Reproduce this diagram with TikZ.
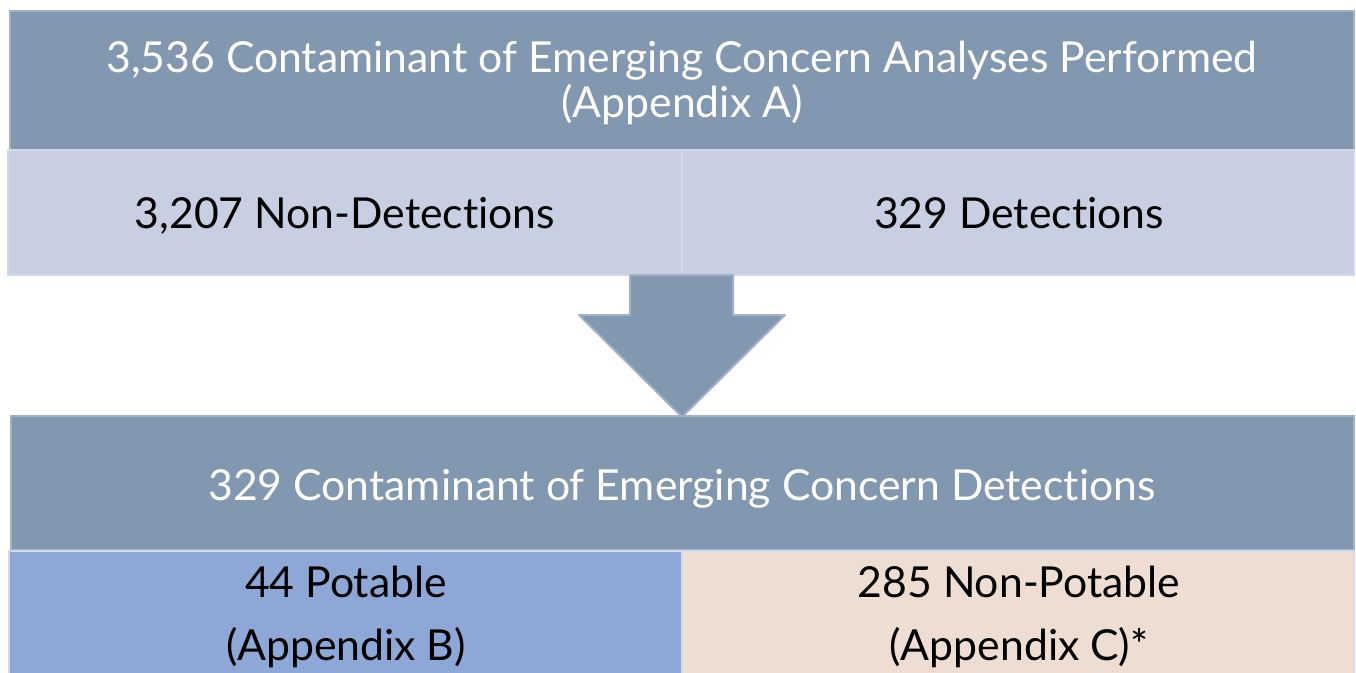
\documentclass[tikz,border=0pt]{standalone}
\usepackage{fontspec}
\setmainfont{Lato}[Ligatures={NoCommon,NoRare}]
\definecolor{dark}{HTML}{8297B0}
\definecolor{darkedge}{HTML}{A3B1C6}
\definecolor{light}{HTML}{C9CFE3}
\definecolor{lightedge}{HTML}{D3D8EA}
\definecolor{potable}{HTML}{8DA8D6}
\definecolor{peach}{HTML}{EEDDD2}
\tikzset{
  darkbox/.style={fill=dark, draw=darkedge, line width=2pt},
  cell/.style={draw=lightedge, line width=2pt},
  wtxt/.style={text=white, font=\fontsize{42.7}{48}\selectfont, anchor=base, inner sep=0pt},
  btxt/.style={text=black, font=\fontsize{42.7}{48}\selectfont, anchor=base, inner sep=0pt},
}
\begin{document}
\begin{tikzpicture}[x=1pt,y=-1pt]
\useasboundingbox (0,0) rectangle (1356,672);
% top box
\path[darkbox] (10,11) rectangle (1354,150);
\path[cell, fill=light] (8,150) rectangle (682,275);
\path[cell, fill=light] (682,150) rectangle (1354,275);
% arrow
\path[fill=dark, draw=darkedge, line width=2pt, line join=round]
  (630,275) -- (733,275) -- (733,315) -- (785,315) -- (682,417) -- (579,315) -- (630,315) -- cycle;
% bottom box
\path[darkbox] (11,416) rectangle (1354,550);
\path[cell, fill=potable] (9,551) rectangle (682,690);
\path[cell, fill=peach] (682,551) rectangle (1354,690);
% texts
\node[wtxt] (t1) at (682,72) {3,536 Contaminant of Emerging Concern Analyses Performed};
\node[wtxt] (t2) at (682,117) {(Appendix A)};
\node[btxt] (nd) at (345,228) {3,207 Non-Detections};
\node[btxt] (d) at (1019,228) {329 Detections};
\node[wtxt] (t3) at (682,500) {329 Contaminant of Emerging Concern Detections};
\node[btxt] (p1) at (346,597) {44 Potable};
\node[btxt] (p2) at (346,660) {(Appendix B)};
\node[btxt] (n1) at (1019,597) {285 Non-Potable};
\node[btxt] (n2) at (1019,660) {(Appendix C)*};
\end{tikzpicture}
\end{document}
